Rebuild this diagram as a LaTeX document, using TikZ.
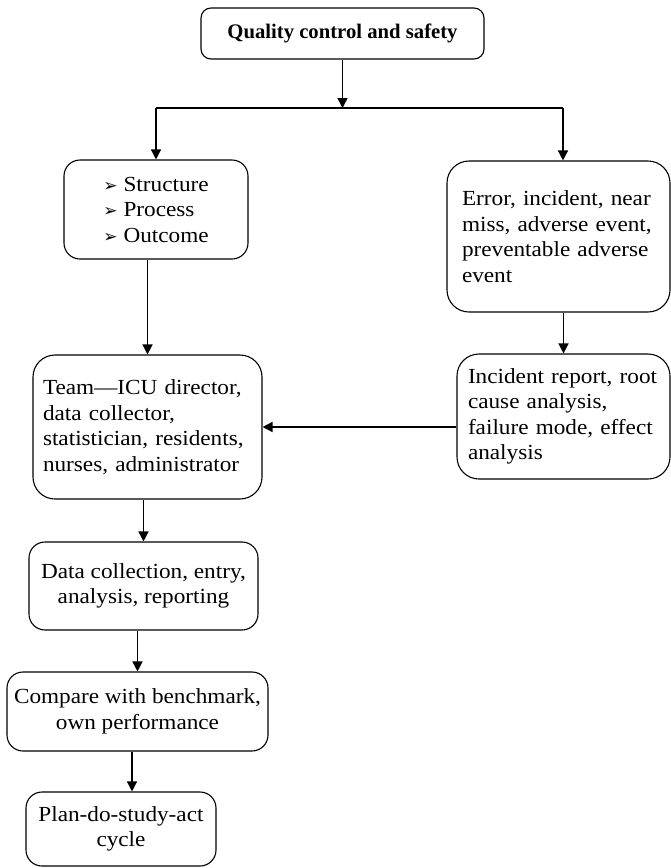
\documentclass[tikz,border=0pt]{standalone}
\usepackage{fontspec}
\setmainfont[FakeStretch=1.08]{Liberation Serif}
\newfontfamily\titlefont{Liberation Serif}
\newfontfamily\symfont{DejaVu Sans}
\usetikzlibrary{arrows.meta}
\begin{document}
\begin{tikzpicture}[x=1pt,y=-1pt,
  box/.style={draw, line width=1.1pt, rounded corners=16pt, font=\fontsize{21.5}{25.5}\selectfont, inner sep=0pt},
  arr/.style={line width=1.4pt, -{Triangle[length=10pt,width=10pt]}},
  ln/.style={line width=1.4pt}]
\useasboundingbox (0,0) rectangle (671,868);
\newcommand{\bul}{{\symfont\fontsize{17}{17}\selectfont ➢}\hspace{6pt}}
% boxes
\node[box, rounded corners=10pt, minimum width=283pt, minimum height=51pt, font=\titlefont\fontsize{20.7}{25.5}\selectfont\bfseries] (top) at (342.5,33.5) {Quality control and safety};
\node[box, minimum width=184pt, minimum height=99pt, align=left] (struct) at (156,209.5) {\bul Structure\\ \bul Process\\ \bul Outcome};
\node[box, rounded corners=22pt, minimum width=223pt, minimum height=151pt, text width=193pt, align=left] (err) at (558.5,236.5) {Error, incident, near\\miss, adverse event,\\preventable adverse\\event};
\node[box, rounded corners=22pt, minimum width=213pt, minimum height=125pt, text width=191pt, align=left] (inc) at (563.5,416.5) {Incident report, root\\cause analysis,\\failure mode, effect\\analysis};
\node[box, rounded corners=22pt, minimum width=229pt, minimum height=144pt, text width=209pt, align=left] (team) at (147.5,427) {Team---ICU director,\\data collector,\\statistician, residents,\\nurses, administrator};
\node[box, minimum width=229pt, minimum height=88pt, align=center] (data) at (143.5,586) {Data collection, entry,\\analysis, reporting};
\node[box, minimum width=261pt, minimum height=79pt, align=center] (comp) at (137.5,711.5) {Compare with benchmark,\\own performance};
\node[box, minimum width=190pt, minimum height=74pt, align=center] (pdsa) at (121,829) {Plan-do-study-act\\cycle};
% junctions
\coordinate (jm) at (342.5,108);
\coordinate (jl) at (156,108);
\coordinate (jr) at (563,108);
\coordinate (cs) at ([xshift=-5.5pt]comp.south);
% connectors
\draw[arr] (top.south) -- (jm);
\draw[ln] (jl) -- (jr);
\draw[arr] (jl) -- (jl |- struct.north);
\draw[arr] (jr) -- (jr |- err.north);
\draw[arr] (struct.south -| team.north) -- (team.north);
\draw[arr] (inc.north |- err.south) -- (inc.north);
\draw[arr] (inc.west |- team.east) -- (team.east);
\draw[arr] (team.south -| data.north) -- (data.north);
\draw[arr] (data.south -| comp.north) -- (comp.north);
\draw[arr] (cs) -- (cs |- pdsa.north);
\end{tikzpicture}
\end{document}
